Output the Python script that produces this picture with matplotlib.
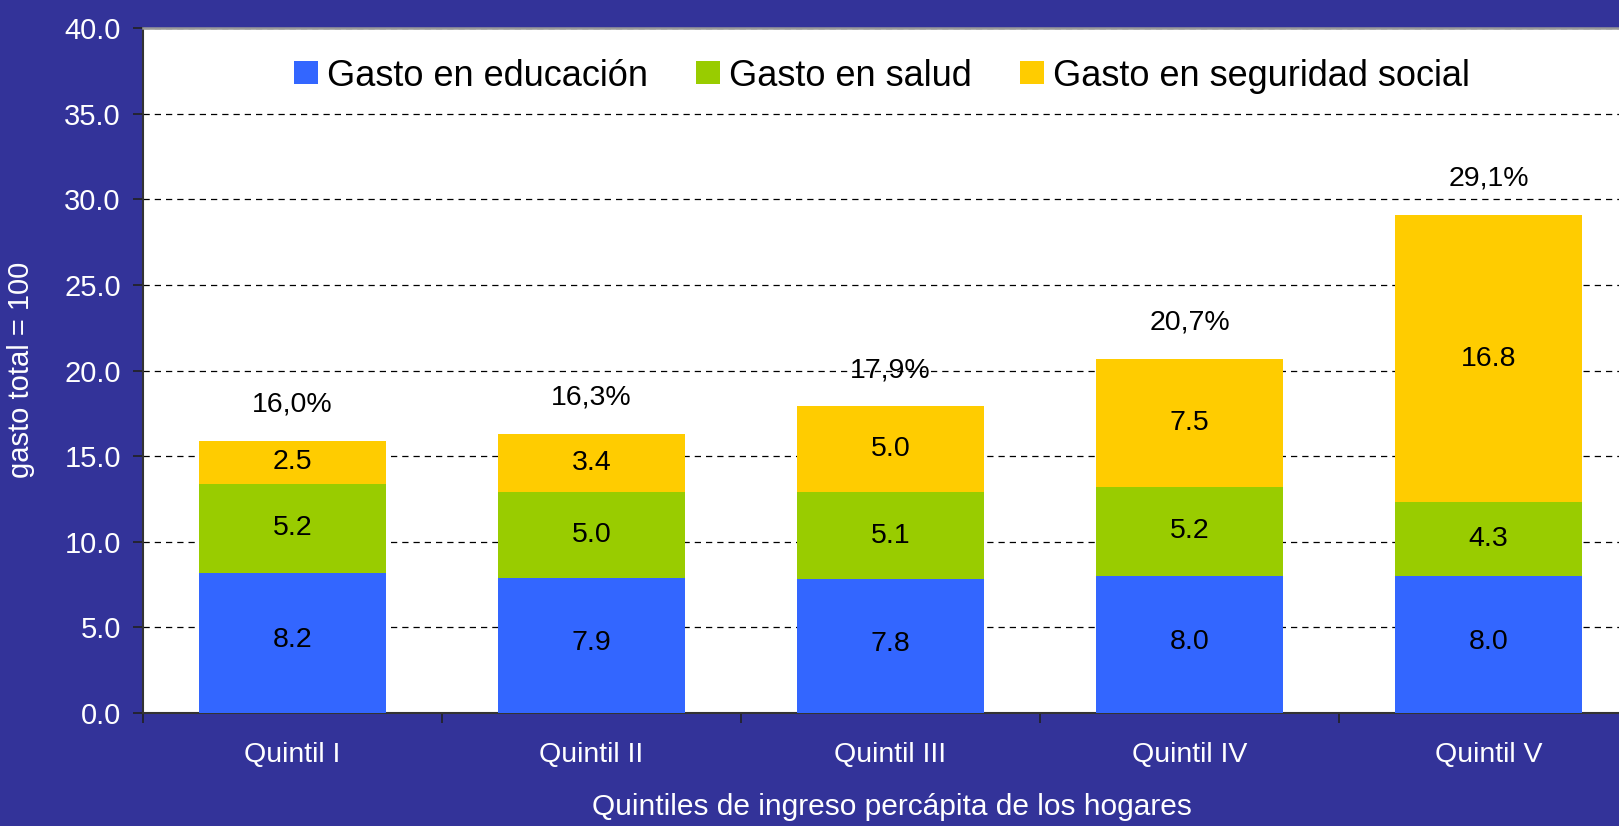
import matplotlib
import numpy as np

matplotlib.use("Agg")
import matplotlib.pyplot as plt  # noqa: E402

plt.rcParams["font.family"] = ["Liberation Sans", "DejaVu Sans"]

BG = "#333399"
C_EDU, C_SAL, C_SEG = "#3366FF", "#99CC00", "#FFCC00"

quintiles = ["Quintil I", "Quintil II", "Quintil III", "Quintil IV", "Quintil V"]
educacion = [8.2, 7.9, 7.8, 8.0, 8.0]
salud = [5.2, 5.0, 5.1, 5.2, 4.3]
seguridad = [2.5, 3.4, 5.0, 7.5, 16.8]
total_labels = ["16,0%", "16,3%", "17,9%", "20,7%", "29,1%"]

fig = plt.figure(figsize=(16.19, 8.26), dpi=100, facecolor=BG)
ax = fig.add_axes([143 / 1619, 1 - 713 / 826, 1495 / 1619, 685 / 826])
ax.set_facecolor("white")

x = np.arange(len(quintiles)) + 0.5
w = 0.625
edu = np.array(educacion)
sal = np.array(salud)
seg = np.array(seguridad)

ax.bar(x, edu, w, color=C_EDU, label="Gasto en educación", zorder=3)
ax.bar(x, sal, w, bottom=edu, color=C_SAL, label="Gasto en salud", zorder=3)
ax.bar(x, seg, w, bottom=edu + sal, color=C_SEG, label="Gasto en seguridad social", zorder=3)

FS = 20.5
for i in range(len(x)):
    ax.text(x[i], edu[i] / 2 + 0.15, f"{edu[i]:.1f}", ha="center", va="center", fontsize=FS,
            zorder=4)
    ax.text(x[i], edu[i] + sal[i] / 2, f"{sal[i]:.1f}", ha="center", va="center", fontsize=FS,
            zorder=4)
    ax.text(x[i], edu[i] + sal[i] + seg[i] / 2, f"{seg[i]:.1f}", ha="center", va="center",
            fontsize=FS, zorder=4)
    tot = edu[i] + sal[i] + seg[i]
    ax.text(x[i], tot + 2.1, total_labels[i], ha="center", va="center", fontsize=FS, zorder=4)

ax.set_xlim(0, len(quintiles))
ax.set_ylim(0, 40)
ax.set_yticks(np.arange(0, 40.1, 5))
ax.set_yticklabels([f"{v:.1f}" for v in np.arange(0, 40.1, 5)])
ax.yaxis.grid(True, color="black", linestyle=(0, (5, 4)), linewidth=0.9, zorder=0)

ax.set_xticks(np.arange(0, len(quintiles) + 1))
ax.set_xticklabels([])
ax.set_xticks(x, minor=True)
ax.set_xticklabels(quintiles, minor=True)
ax.tick_params(axis="x", which="minor", length=0, pad=21, labelsize=FS, labelcolor="white")
ax.tick_params(axis="x", which="major", length=7, width=1.2, color="#222222", direction="out")
ax.tick_params(axis="y", length=7, width=1.2, color="#222222", pad=9, labelsize=21,
               labelcolor="white")

for side in ("left", "bottom"):
    ax.spines[side].set_color("#333333")
    ax.spines[side].set_linewidth(1.5)
for side in ("top", "right"):
    ax.spines[side].set_color("#999999")
    ax.spines[side].set_linewidth(1.8)

fig.text(21 / 1619, 1 - 370 / 826, "gasto total = 100", rotation=90, ha="center", va="center",
         fontsize=21, color="white")
fig.text(892 / 1619, 1 - 807 / 826, "Quintiles de ingreso percápita de los hogares",
         ha="center", va="center", fontsize=21.5, color="white")

fig.legend(loc="center", bbox_to_anchor=(882 / 1619, 1 - 76 / 826), ncol=3, frameon=False,
           fontsize=26, handlelength=0.65, handleheight=0.62, handletextpad=0.25,
           columnspacing=1.35)

fig.savefig("out.png", dpi=100, facecolor=BG)
